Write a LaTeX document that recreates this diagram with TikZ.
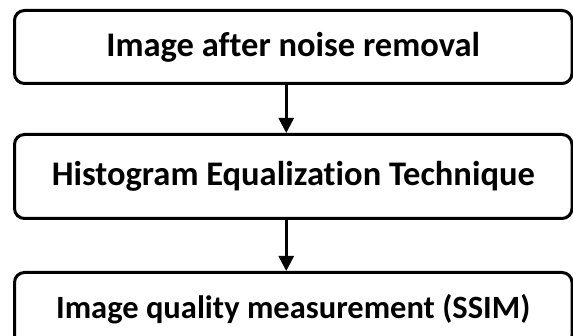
\documentclass[tikz,border=0pt]{standalone}
\usepackage{fontspec}
\setmainfont[Ligatures=NoCommon]{Carlito}
\usetikzlibrary{arrows.meta}

\begin{document}
\begin{tikzpicture}[x=1pt, y=-1pt,
        stage/.style={draw, line width=3pt, rounded corners=10pt, minimum width=557.5pt, inner sep=0pt,
            font=\fontsize{34.5}{40}\selectfont\bfseries},
        flow/.style={line width=2.5pt, -{Triangle[width=15pt, length=15pt]}}]
                \useasboundingbox (0, 0) rectangle (573, 336);

                \node[stage, minimum height=73pt] (noise) at (293.25, 47) {Image after noise removal};
                \node[stage, minimum height=84pt] (histeq) at (293.25, 176.5) {Histogram Equalization Technique};
                \node[stage, minimum height=73pt, font=\fontsize{32.5}{38}\selectfont\bfseries] (ssim) at (293.25, 309)
                    {Image quality measurement (SSIM)};

                \draw[flow] ([xshift=-7pt]noise.south) -- ([xshift=-7pt]histeq.north);
                \draw[flow] ([xshift=-7pt]histeq.south) -- ([xshift=-7pt]ssim.north);
            \end{tikzpicture}
\end{document}
